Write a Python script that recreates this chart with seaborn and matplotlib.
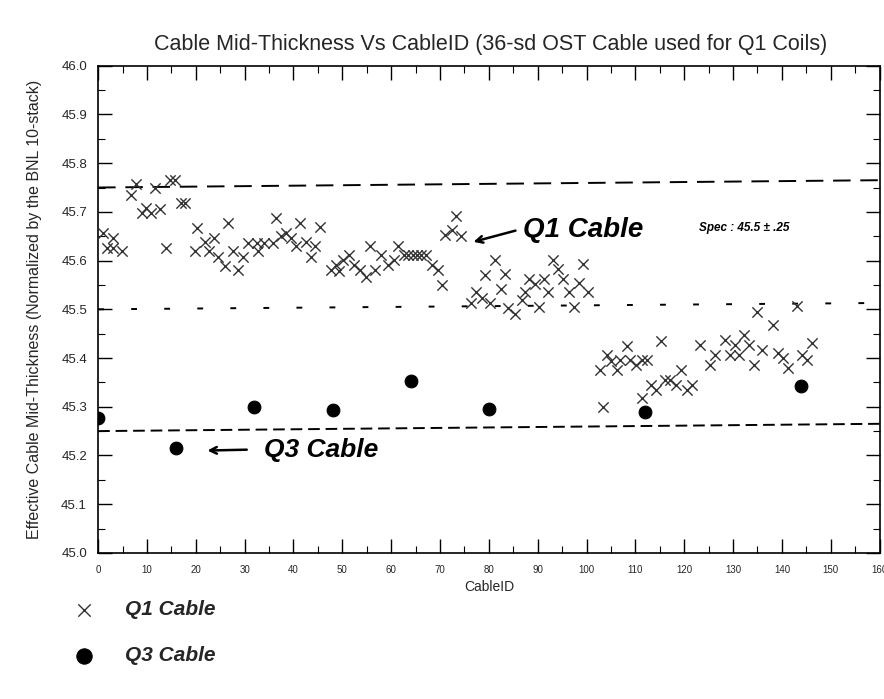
import matplotlib
matplotlib.use("Agg")
import matplotlib.pyplot as plt
import seaborn as sns
import pandas as pd
from matplotlib.ticker import MultipleLocator

sns.set_theme(style="white")
plt.rcParams['font.family'] = ['Liberation Sans', 'DejaVu Sans']

q1_id = [1.0, 3.0, 1.8, 3.1, 4.8, 6.7, 7.8, 8.9, 9.9, 10.9, 11.6, 12.6, 13.8, 14.8, 15.8,
         16.9, 17.8, 20.3, 19.8, 21.8, 23.7, 22.6, 24.6, 26.6, 26.0, 27.6, 29.7, 28.6,
         30.7, 32.7, 32.6, 34.0, 35.8, 36.5, 37.4, 38.5, 39.5, 40.5, 41.4, 45.5, 42.6,
         44.4, 43.6, 47.7, 48.7, 50.1, 51.4, 49.4, 52.4, 53.6, 54.8, 56.6, 55.6, 57.9,
         59.3, 60.6, 61.3, 62.6, 63.5, 64.4, 65.3, 66.2, 67.1, 68.4, 69.5, 70.5, 73.2,
         71.1, 72.5, 74.2, 81.3, 79.3, 83.4, 82.4, 77.3, 78.5, 76.3, 80.3, 84.0, 85.4,
         90.2, 86.7, 87.5, 88.3, 89.4, 91.2, 92.2, 93.2, 94.1, 95.2, 96.4, 97.4, 98.4,
         99.2, 100.4, 102.7, 104.1, 105.1, 106.2, 106.9, 108.2, 108.9, 110.2, 111.3,
         112.3, 115.3, 103.4, 111.3, 113.3, 114.3, 116.0, 117.1, 118.4, 119.4, 120.5,
         121.5, 123.2, 125.2, 126.3, 128.3, 129.3, 130.3, 131.3, 132.3, 133.3, 134.3,
         136.0, 135.0, 138.2, 139.2, 140.2, 141.2, 143.1, 144.2, 145.2, 146.2]
q1_thk = [45.656, 45.646, 45.626, 45.626, 45.619, 45.735, 45.758, 45.698, 45.708, 45.698,
          45.749, 45.706, 45.626, 45.766, 45.766, 45.718, 45.718, 45.667, 45.619, 45.639,
          45.646, 45.619, 45.608, 45.677, 45.588, 45.619, 45.608, 45.581, 45.637, 45.619,
          45.637, 45.637, 45.637, 45.687, 45.650, 45.657, 45.646, 45.629, 45.677, 45.669,
          45.639, 45.629, 45.607, 45.581, 45.591, 45.602, 45.612, 45.578, 45.591, 45.581,
          45.567, 45.581, 45.629, 45.612, 45.591, 45.602, 45.629, 45.612, 45.612, 45.612,
          45.612, 45.612, 45.612, 45.591, 45.580, 45.550, 45.692, 45.653, 45.662, 45.650,
          45.602, 45.571, 45.573, 45.541, 45.535, 45.523, 45.513, 45.513, 45.502, 45.491,
          45.504, 45.519, 45.535, 45.562, 45.552, 45.562, 45.535, 45.602, 45.583, 45.562,
          45.535, 45.504, 45.555, 45.593, 45.535, 45.376, 45.407, 45.393, 45.376, 45.396,
          45.424, 45.396, 45.386, 45.396, 45.396, 45.434, 45.300, 45.318, 45.345, 45.335,
          45.355, 45.355, 45.345, 45.376, 45.335, 45.345, 45.427, 45.386, 45.407, 45.437,
          45.407, 45.427, 45.407, 45.448, 45.427, 45.386, 45.417, 45.495, 45.468, 45.410,
          45.400, 45.379, 45.507, 45.407, 45.396, 45.431]

q3_id = [0, 16, 32, 48, 64, 80, 112, 144]
q3_thk = [45.277, 45.216, 45.300, 45.294, 45.353, 45.296, 45.290, 45.343]

spec_levels = [45.75, 45.50, 45.25]
spec_levels_right = [45.765, 45.513, 45.265]
spec_dashes = [(9, 5), (3, 14), (6, 3)]

df1 = pd.DataFrame({"CableID": q1_id, "thk": q1_thk})
df3 = pd.DataFrame({"CableID": q3_id, "thk": q3_thk})

fig = plt.figure(figsize=(8.84, 6.99), dpi=100)
ax = fig.add_axes([0.111, 0.209, 0.884, 0.697])

for yl, yr, ds in zip(spec_levels, spec_levels_right, spec_dashes):
    ax.plot([0, 160], [yl, yr], color="black", lw=1.4, dashes=ds, zorder=1)

sns.scatterplot(data=df1, x="CableID", y="thk", marker="x", s=55, color="#333333",
                linewidth=1.0, ax=ax, label="Q1 Cable", zorder=3)
sns.scatterplot(data=df3, x="CableID", y="thk", marker="o", s=85, color="black",
                edgecolor="black", ax=ax, label="Q3 Cable", zorder=3)

ax.set_xlim(0, 160)
ax.set_ylim(45.0, 46.0)
ax.xaxis.set_major_locator(MultipleLocator(10))
ax.xaxis.set_minor_locator(MultipleLocator(5))
ax.yaxis.set_major_locator(MultipleLocator(0.1))
ax.yaxis.set_minor_locator(MultipleLocator(0.05))
ax.yaxis.set_major_formatter(matplotlib.ticker.FormatStrFormatter("%.1f"))
ax.tick_params(which="both", direction="in", top=True, right=True, left=True, bottom=True,
               color="black")
ax.tick_params(which="major", length=10, width=1.0)
ax.tick_params(which="minor", length=5, width=0.8)
ax.tick_params(axis="x", labelsize=7, pad=9)
ax.tick_params(axis="y", labelsize=9.5, pad=8)
for sp in ax.spines.values():
    sp.set_color("black")
    sp.set_linewidth(1.2)

ax.set_xlabel("CableID", fontsize=10, labelpad=3)
ax.set_ylabel("Effective Cable Mid-Thickness (Normalized by the BNL 10-stack)",
              fontsize=11.5, labelpad=14)
fig.suptitle("Cable Mid-Thickness Vs CableID (36-sd OST Cable used for Q1 Coils)",
             x=0.555, y=0.952, fontsize=15.5)

hand = dict(fontstyle="italic", fontweight="bold", color="black")
ax.annotate("", xy=(76.3, 45.637), xytext=(86.0, 45.663),
            arrowprops=dict(arrowstyle="->", lw=1.8, color="black"))
ax.text(87.0, 45.663, "Q1 Cable", fontsize=20, va="center", ha="left", **hand)
ax.text(123.0, 45.667, "Spec : 45.5 ± .25", fontsize=8.5, va="center", ha="left", **hand)
ax.annotate("", xy=(21.8, 45.21), xytext=(31.0, 45.212),
            arrowprops=dict(arrowstyle="->", lw=1.8, color="black"))
ax.text(34.0, 45.212, "Q3 Cable", fontsize=19, va="center", ha="left", **hand)

leg = ax.legend(loc="upper left", bbox_to_anchor=(0.05, 0.168), bbox_transform=fig.transFigure,
                frameon=False, fontsize=15, labelspacing=1.3, handletextpad=1.0,
                markerscale=1.2)
for t in leg.get_texts():
    t.set_fontstyle("italic")
    t.set_fontweight("bold")

fig.savefig("out.png", dpi=100)
